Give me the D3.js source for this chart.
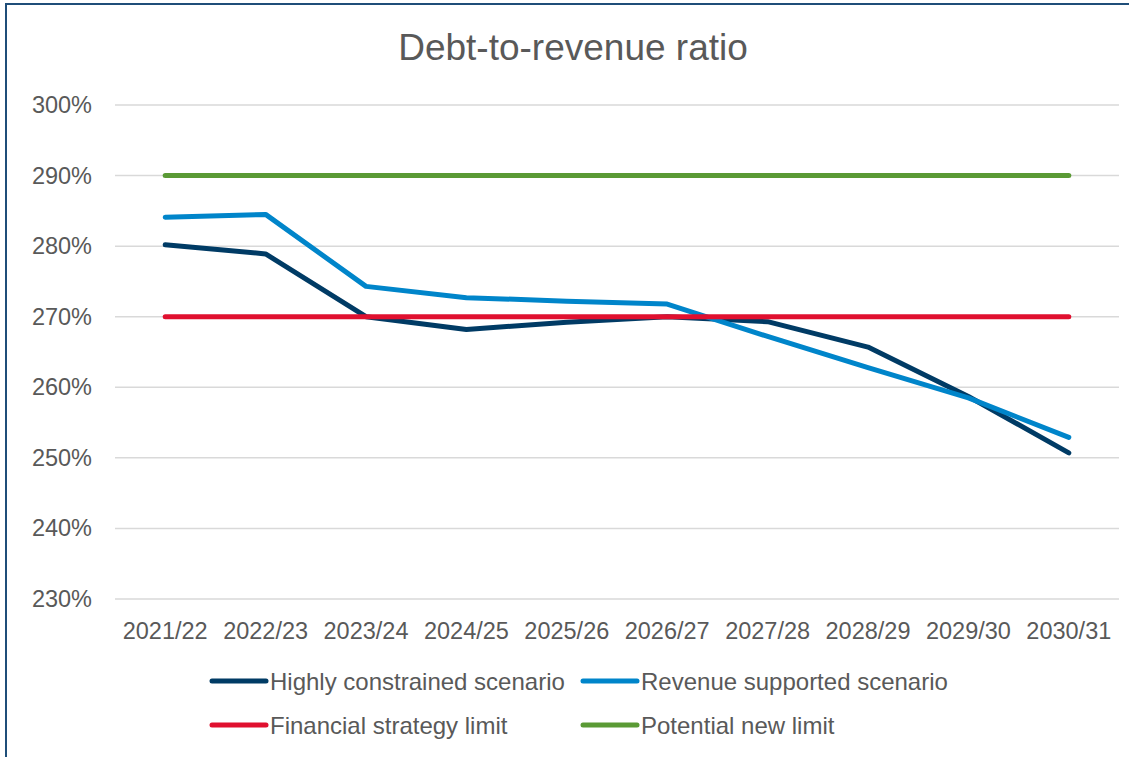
<!DOCTYPE html>
<html>
<head>
<meta charset="utf-8">
<script src="https://cdn.jsdelivr.net/npm/d3@7"></script>
<style>
  html, body { margin: 0; padding: 0; background: #fff; }
  svg { display: block; font-family: "Liberation Sans", Arial, sans-serif; }
</style>
</head>
<body>
<svg id="chart" width="1129" height="757"></svg>
<script>
// Financial years on the x axis
const years = ["2021/22", "2022/23", "2023/24", "2024/25", "2025/26",
               "2026/27", "2027/28", "2028/29", "2029/30", "2030/31"];

// Debt-to-revenue ratio (%) per scenario
const highlyConstrained = [280.2, 278.9, 270.0, 268.2, 269.2, 270.0, 269.3, 265.7, 258.7, 250.7];
const revenueSupported  = [284.1, 284.5, 274.3, 272.7, 272.2, 271.8, 267.2, 262.8, 258.5, 252.9];
const strategyLimit     = [270, 270, 270, 270, 270, 270, 270, 270, 270, 270];
const potentialLimit    = [290, 290, 290, 290, 290, 290, 290, 290, 290, 290];

// Y axis ticks
const yTicks = [230, 240, 250, 260, 270, 280, 290, 300];

const seriesNames  = ["Highly constrained scenario", "Revenue supported scenario",
                      "Financial strategy limit", "Potential new limit"];
const seriesColors = ["#003B65", "#0085CA", "#E0102F", "#5A9A35"];
const seriesValues = [highlyConstrained, revenueSupported, strategyLimit, potentialLimit];

const svg = d3.select("#chart");
const textColor = "#595959";

// Outer frame
svg.append("rect")
  .attr("x", 6).attr("y", 4)
  .attr("width", 1140).attr("height", 770)
  .attr("fill", "none")
  .attr("stroke", "#1F4E79")
  .attr("stroke-width", 2);

const plot = { left: 115, right: 1119, top: 105, bottom: 599 };

const x = d3.scaleBand().domain(years).range([plot.left, plot.right]);
const y = d3.scaleLinear().domain([230, 300]).range([plot.bottom, plot.top]);

// Title
svg.append("text")
  .attr("x", 573).attr("y", 60)
  .attr("text-anchor", "middle")
  .attr("fill", textColor)
  .style("font-size", "37px")
  .text("Debt-to-revenue ratio");

// Gridlines
svg.append("g")
  .selectAll("line")
  .data(yTicks)
  .join("line")
  .attr("x1", plot.left).attr("x2", plot.right)
  .attr("y1", d => y(d)).attr("y2", d => y(d))
  .attr("stroke", "#D9D9D9")
  .attr("stroke-width", 1.5);

// Y axis labels
const yAxis = d3.axisLeft(y).tickValues(yTicks).tickSize(0).tickPadding(0)
  .tickFormat(d => d + "%");
svg.append("g")
  .attr("transform", `translate(92,0)`)
  .call(yAxis)
  .call(g => g.select(".domain").remove())
  .call(g => g.selectAll("text")
    .attr("fill", textColor)
    .style("font-size", "23.5px")
    .style("font-family", "'Liberation Sans', Arial, sans-serif"));

// X axis labels
const xAxis = d3.axisBottom(x).tickSize(0).tickPadding(0);
svg.append("g")
  .attr("transform", `translate(0,${plot.bottom + 23})`)
  .call(xAxis)
  .call(g => g.select(".domain").remove())
  .call(g => g.selectAll("text")
    .attr("fill", textColor)
    .style("font-size", "23.5px")
    .style("font-family", "'Liberation Sans', Arial, sans-serif"));

// Series lines
const line = d3.line()
  .x((d, i) => x(years[i]) + x.bandwidth() / 2)
  .y(d => y(d));

svg.append("g")
  .selectAll("path")
  .data(seriesValues)
  .join("path")
  .attr("d", d => line(d))
  .attr("fill", "none")
  .attr("stroke", (d, i) => seriesColors[i])
  .attr("stroke-width", 5)
  .attr("stroke-linecap", "round")
  .attr("stroke-linejoin", "round");

// Legend
const legendPos = [
  { x: 212, y: 681 }, { x: 583, y: 681 },
  { x: 212, y: 725 }, { x: 583, y: 725 }
];
const legend = svg.append("g")
  .selectAll("g")
  .data(seriesNames)
  .join("g")
  .attr("transform", (d, i) => `translate(${legendPos[i].x},${legendPos[i].y})`);

legend.append("line")
  .attr("x1", 0).attr("x2", 54)
  .attr("y1", 0).attr("y2", 0)
  .attr("stroke", (d, i) => seriesColors[i])
  .attr("stroke-width", 5)
  .attr("stroke-linecap", "round");

legend.append("text")
  .attr("x", 58).attr("y", 8.5)
  .attr("fill", textColor)
  .style("font-size", "24px")
  .text(d => d);
</script>
</body>
</html>
